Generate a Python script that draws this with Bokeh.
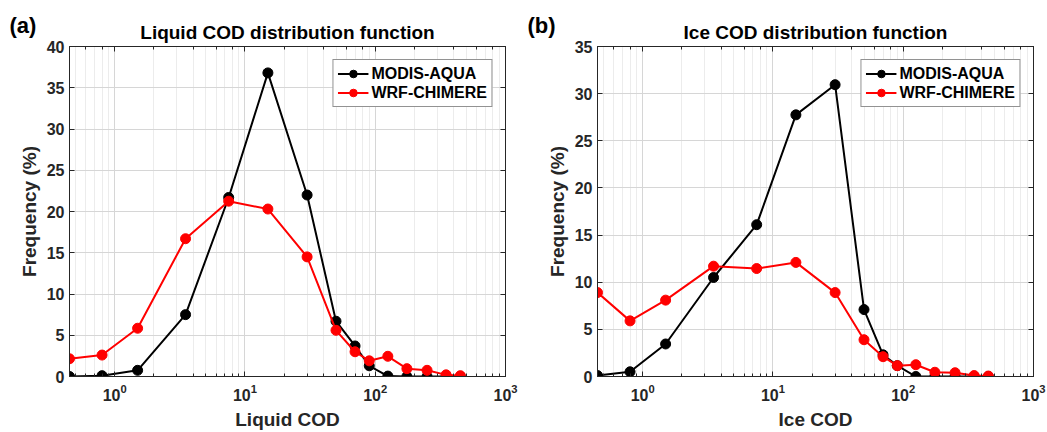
from bokeh.plotting import figure
from bokeh.models import (LogAxis, LinearAxis, Legend, LegendItem, Label,
                          SingleIntervalTicker, Range1d, LogTicker,
                          CustomJSTickFormatter)
from bokeh.layouts import row
from bokeh.embed import file_html
from bokeh.resources import INLINE

cod_bins = [0.45, 0.8, 1.5, 3.5, 7.5, 15, 30, 50, 70, 90, 125, 175, 250, 350, 450]
liq_modis = [0, 0.1, 0.75, 7.5, 21.7, 36.8, 22.0, 6.7, 3.7, 1.3, 0.05, 0, 0, 0, 0]
liq_wrf = [2.15, 2.6, 5.85, 16.7, 21.25, 20.3, 14.5, 5.6, 3.0, 1.9, 2.45, 0.95, 0.75, 0.2, 0.1]
ice_modis = [0.1, 0.5, 3.45, 10.5, 16.1, 27.75, 30.95, 7.1, 2.3, 1.15, 0, 0, 0, 0, 0]
ice_wrf = [8.9, 5.9, 8.1, 11.7, 11.45, 12.1, 8.9, 3.9, 2.1, 1.15, 1.25, 0.45, 0.4, 0.1, 0.05]

series_names = ["MODIS-AQUA", "WRF-CHIMERE"]
series_colors = ["#000000", "#ff0000"]

FONT = "Liberation Sans"
AXC = "#262626"
H = 432
BL = 69
FW = 436


def style_axis(ax, show_labels=True):
    ax.axis_line_color = AXC
    ax.axis_line_width = 1
    ax.major_tick_in = 5
    ax.major_tick_out = 0
    ax.minor_tick_in = 3
    ax.minor_tick_out = 0
    ax.major_tick_line_color = AXC
    ax.minor_tick_line_color = AXC
    ax.major_label_text_font = FONT
    ax.major_label_text_font_style = "bold"
    ax.major_label_text_font_size = "16px"
    ax.major_label_text_color = "#262626"
    ax.major_label_standoff = 5
    ax.axis_label_text_font = FONT
    ax.axis_label_text_font_style = "bold"
    ax.axis_label_text_font_size = "19px"
    ax.axis_label_text_color = "#262626"
    if not show_labels:
        ax.formatter = CustomJSTickFormatter(code="return '';")
        ax.major_label_text_font_size = "1px"
        ax.major_label_standoff = 0


def make_panel(title, letter, xlabel, modis, wrf, ymax, br, lx):
    p = figure(width=BL + FW + br, height=H, x_axis_type="log",
               x_range=Range1d(0.45, 1000), y_range=Range1d(0, ymax),
               output_backend="svg", toolbar_location=None,
               title_location=None,
               min_border_left=BL, min_border_right=br,
               min_border_top=44, min_border_bottom=55)

    p.xaxis.axis_label = xlabel
    p.yaxis.axis_label = "Frequency (%)"
    p.yaxis.ticker = SingleIntervalTicker(interval=5, num_minor_ticks=0)
    style_axis(p.xaxis[0])
    style_axis(p.yaxis[0])
    p.xaxis.major_label_standoff = 7
    p.xaxis.axis_label_standoff = 5
    p.yaxis.axis_label_standoff = 4

    top = LogAxis(ticker=LogTicker())
    style_axis(top, show_labels=False)
    p.add_layout(top, "above")
    right = LinearAxis(ticker=SingleIntervalTicker(interval=5, num_minor_ticks=0))
    style_axis(right, show_labels=False)
    p.add_layout(right, "right")

    p.xgrid.grid_line_color = "#d6d6d6"
    p.xgrid.minor_grid_line_color = "#ececec"
    p.ygrid.grid_line_color = "#d6d6d6"
    p.ygrid.ticker = SingleIntervalTicker(interval=5, num_minor_ticks=0)
    p.outline_line_color = AXC
    p.background_fill_color = "white"
    p.border_fill_color = "white"

    items = []
    for name, color, vals in zip(series_names, series_colors, [modis, wrf]):
        l = p.line(cod_bins, vals, line_color=color, line_width=2)
        s = p.scatter(cod_bins, vals, marker="circle", size=10,
                      fill_color=color, line_color=color)
        items.append(LegendItem(label=name, renderers=[l, s]))
    leg = Legend(items=items, location="top_right", margin=13,
                 padding=4, spacing=0, label_standoff=3,
                 glyph_width=31, glyph_height=19, label_height=19,
                 label_text_font=FONT, label_text_font_style="bold",
                 label_text_font_size="16px", label_text_color="#000000",
                 border_line_color="#262626", border_line_width=1,
                 background_fill_color="white", background_fill_alpha=1)
    p.add_layout(leg, "center")

    ttl = Label(x=BL + FW / 2, y=32, x_units="canvas", y_units="canvas",
                text=title, text_font=FONT, text_font_style="bold",
                text_font_size="19px", text_color="#000000",
                text_align="center", text_baseline="alphabetic",
                text_line_height=0.1)
    p.add_layout(ttl, "above")
    lab = Label(x=lx, y=25, x_units="canvas", y_units="canvas", text=letter,
                text_font=FONT, text_font_style="bold", text_font_size="22px",
                text_color="#000000", text_baseline="alphabetic",
                text_line_height=0.1)
    p.add_layout(lab, "above")
    return p


p1 = make_panel("Liquid COD distribution function", "(a)", "Liquid COD",
                liq_modis, liq_wrf, 40, 23, 9)
p2 = make_panel("Ice COD distribution function", "(b)", "Ice COD",
                ice_modis, ice_wrf, 35, 14, -1)

layout = row(p1, p2)
open("out.html", "w").write(file_html(layout, INLINE))
